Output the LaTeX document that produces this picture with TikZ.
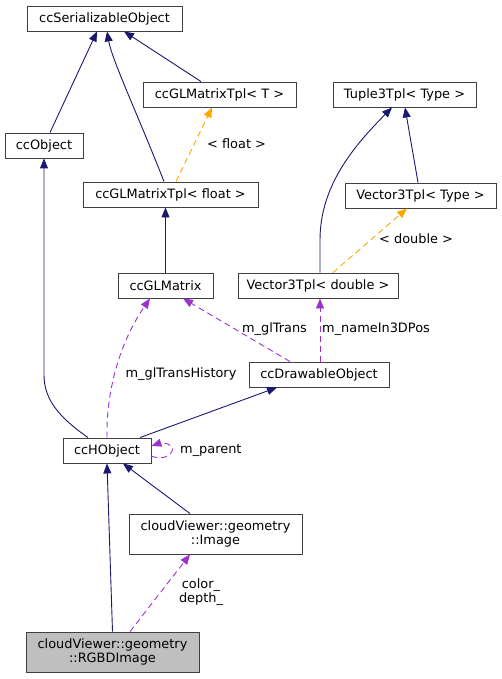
\documentclass[tikz,border=0pt]{standalone}
\usepackage{fontspec}
\setmainfont{DejaVu Sans}
\usetikzlibrary{arrows.meta,calc,positioning}
\definecolor{inhblue}{RGB}{25,25,112}
\definecolor{usepurple}{RGB}{154,50,205}
\definecolor{tplorange}{RGB}{255,165,0}

\begin{document}
\begin{tikzpicture}[x=1pt,y=-1pt,
    font=\fontsize{12.9}{15}\selectfont,
    cls/.style={draw=black!75,line width=0.9pt,inner sep=0pt,minimum height=25pt,align=center},
    inh/.style={draw=inhblue,line width=0.9pt,-{Triangle[length=10pt,width=8pt,fill=inhblue]}},
    use/.style={draw=usepurple,line width=0.9pt,dash pattern=on 6pt off 4pt,
      -{Triangle[length=10pt,width=8pt,fill=usepurple]}},
    tpl/.style={draw=tplorange,line width=0.9pt,dash pattern=on 6pt off 4pt,
      -{Triangle[length=10pt,width=8pt,fill=tplorange]}},
    lbl/.style={inner sep=0pt,align=center}]
    \useasboundingbox (0,0) rectangle (501,679);

    \node[cls,minimum width=155pt] (SER) at (104.5,18.5) {ccSerializableObject};
    \node[cls,minimum width=153pt] (TPLT) at (219.5,94.5) {ccGLMatrixTpl< T >};
    \node[cls,minimum width=78pt] (OBJ) at (44,145.5) {ccObject};
    \node[cls,minimum width=175pt] (TPLF) at (170.5,194.5) {ccGLMatrixTpl< float >};
    \node[cls,minimum width=143pt] (TUP) at (404.5,94.5) {Tuple3Tpl< Type >};
    \node[cls,minimum width=151pt] (VECT) at (420.5,195.5) {Vector3Tpl< Type >};
    \node[cls,minimum width=160pt] (VECD) at (318,285.5) {Vector3Tpl< double >};
    \node[cls,minimum width=95pt] (GLM) at (165.5,285.5) {ccGLMatrix};
    \node[cls,minimum width=140pt] (DRAW) at (319,374.5) {ccDrawableObject};
    \node[cls,minimum width=88pt] (HOBJ) at (107,450.5) {ccHObject};
    \node[cls,minimum width=173pt,minimum height=40pt] (IMG) at (215.5,534)
      {cloudViewer::geometry\\[-1pt]::Image};
    \node[cls,minimum width=173pt,minimum height=40pt,fill=black!25] (RGBD) at (112.5,652)
      {cloudViewer::geometry\\[-1pt]::RGBDImage};

    \node[lbl,anchor=west] (LFLOAT) at (207,144) {< float >};
    \node[lbl,anchor=west] (LDOUBLE) at (379,239) {< double >};
    \node[lbl] (LTRANS) at (274.5,329) {m\_glTrans};
    \node[lbl,anchor=west] (LNAME) at (322,329) {m\_nameIn3DPos};
    \node[lbl] (LHIST) at (181,374) {m\_glTransHistory};
    \node[lbl,anchor=west] (LPARENT) at (180,450) {m\_parent};
    \node[lbl] (LCOLOR) at (201,592) {color\_\\[-1pt]depth\_};

    \draw[inh] ([xshift=6]OBJ.north) -- ([xshift=-7.5]SER.south);
    \draw[inh] ([xshift=-6.5]TPLF.north) .. controls (140,120) and (112,60) .. ([xshift=2.5]SER.south);
    \draw[inh] ([xshift=-18.5]TPLT.north) -- ([xshift=19.5]SER.south);
    \draw[tpl] ([xshift=5.5]TPLF.north) -- ([xshift=-7.5]TPLT.south);
    \draw[inh] (GLM.north) -- (GLM.north |- TPLF.south);
    \draw[inh] ([xshift=2]VECD.north) -- (320,240) .. controls (320,185) and (355,145) .. ([xshift=-12.5]TUP.south);
    \draw[inh] ([xshift=-2.5]VECT.north) -- ([xshift=0.5]TUP.south);
    \draw[tpl] ([xshift=15]VECD.north) -- ([xshift=-13.5]VECT.south);
    \draw[inh] ([xshift=-19]HOBJ.north) .. controls (60,418) and (44,400) .. (44,375) -- (OBJ.south);
    \draw[inh] ([xshift=33]HOBJ.north) -- ([xshift=-42]DRAW.south);
    \draw[use] (HOBJ.north) .. controls (106,395) and (118,345) .. ([xshift=-15.5]GLM.south);
    \draw[use] ([xshift=-29]DRAW.north) -- ([xshift=17.5]GLM.south);
    \draw[use] ([xshift=1]DRAW.north) -- ([xshift=2]VECD.south);
    \draw[use] ([yshift=-5.5]HOBJ.east) .. controls (165,462) and (175,452) .. (172,447)
      .. controls (168,442) and (160,443) .. ([yshift=4.5]HOBJ.east);
    \draw[inh] ([xshift=-25.5]IMG.north) -- ([xshift=16]HOBJ.south);
    \draw[inh] (RGBD.north) -- (HOBJ.south);
    \draw[use] ([xshift=17.5]RGBD.north) -- ([xshift=-25.5]IMG.south);
  \end{tikzpicture}
\end{document}
